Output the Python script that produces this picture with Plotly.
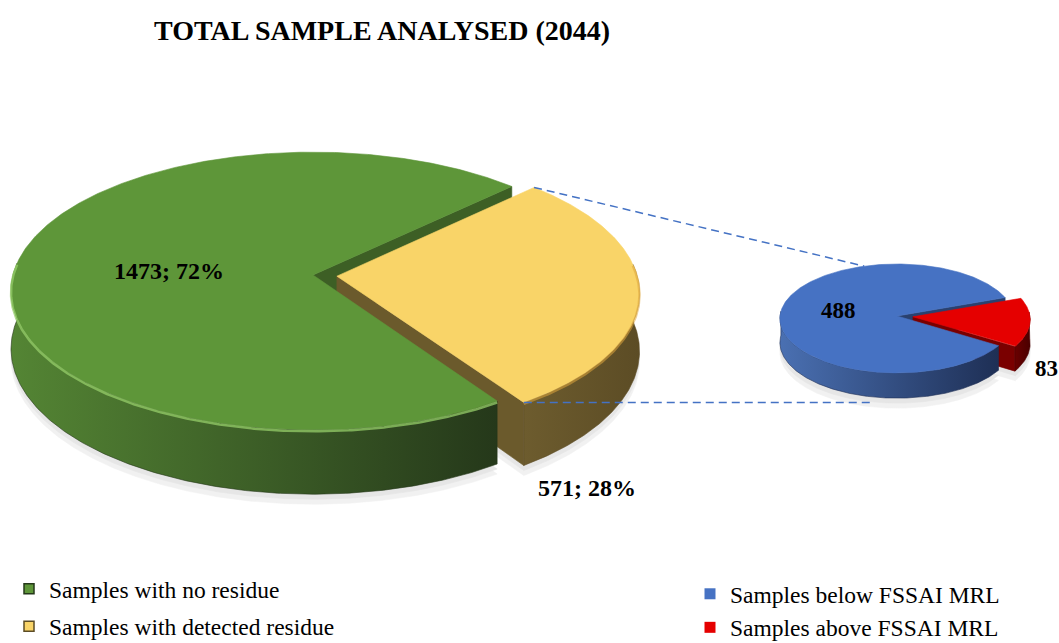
import numpy as np
import plotly.graph_objects as go

# ---------------- data ----------------
TITLE = "TOTAL SAMPLE ANALYSED (2044)"
main_labels = ["Samples with no residue", "Samples with detected residue"]
main_values = [1473, 571]
sub_labels = ["Samples below FSSAI MRL", "Samples above FSSAI MRL"]
sub_values = [488, 83]

# ---------------- style / layout ----------------
W, H = 1059, 643
SERIF = "Times New Roman, Liberation Serif, serif"

main_style = [
    dict(top="#5E9639", wall=["#548534", "#25381A"], face="#3D5F25", rim="rgba(150,205,105,0.75)"),
    dict(top="#F9D468", wall=["#6D5C2E", "#5C4C25"], face="#6B5A2C", rim="rgba(222,165,60,0.55)"),
]
sub_style = [
    dict(top="#4672C3", wall=["#4A70B2", "#1E2F55"], face="#2A416F", rim=None),
    dict(top="#E50000", wall=["#6A0000", "#4A0000"], face="#7A0000", rim=None),
]

BIG = dict(cx=313, cy=275, rx=300, ry=137, p=0.115, depth=57)
SMALL = dict(cx=897, cy=316, rx=117, ry=54.4, p=0.046, depth=24)
CENTER_ANGLE = -6.0
EXPLODE_BIG = 0.08
EXPLODE_SMALL = 0.137
WALL_WINDOWS = [(175.0, 365.0), (-185.0, 5.0)]


def project(g, u, v, drop):
    u = np.asarray(u, dtype=float)
    v = np.asarray(v, dtype=float)
    k = 1.0 / (1.0 + g["p"] * v)
    return g["cx"] + g["rx"] * u * k, g["cy"] - g["ry"] * v * k + drop * g["depth"] * k


def pie_angles(values):
    total = float(sum(values))
    span = 360.0 * values[1] / total
    a0 = CENTER_ANGLE - span / 2
    a1 = CENTER_ANGLE + span / 2
    # keep slice, split slice
    return [(a1, a0 + 360.0), (a0, a1)]


class Slice:
    def __init__(self, g, a0, a1, e):
        self.g, self.a0, self.a1 = g, a0, a1
        m = np.radians((a0 + a1) / 2)
        self.ex, self.ey = e * np.cos(m), e * np.sin(m)

    def rim(self, t_deg, drop, r=1.0):
        t = np.radians(np.asarray(t_deg, dtype=float))
        return project(self.g, r * np.cos(t) + self.ex, r * np.sin(t) + self.ey, drop)

    def apex(self, drop):
        return project(self.g, self.ex, self.ey, drop)

    def arc(self, lo, hi, drop):
        n = max(3, int(abs(hi - lo) * 2))
        return self.rim(np.linspace(lo, hi, n), drop)

    def top(self):
        ax, ay = self.apex(0)
        rx, ry = self.arc(self.a0, self.a1, 0)
        return np.r_[ax, rx, ax], np.r_[ay, ry, ay]

    def bottom(self, dy=0.0):
        ax, ay = self.apex(1)
        rx, ry = self.arc(self.a0, self.a1, 1)
        return np.r_[ax, rx, ax], np.r_[ay, ry, ay] + dy

    def face(self):
        ax0, ay0 = self.apex(0)
        ax1, ay1 = self.apex(1)
        px0, py0 = self.rim(self.a0, 0)
        px1, py1 = self.rim(self.a0, 1)
        return [ax0, px0, px1, ax1, ax0], [ay0, py0, py1, ay1, ay0]

    def walls(self):
        out = []
        for w0, w1 in WALL_WINDOWS:
            lo, hi = max(self.a0, w0), min(self.a1, w1)
            if hi > lo:
                tx, ty = self.arc(lo, hi, 0)
                bx, by = self.arc(lo, hi, 1)
                out.append((np.r_[tx, bx[::-1], tx[0]], np.r_[ty, by[::-1], ty[0]], lo, hi))
        return out


fig = go.Figure()


def poly(x, y, fill, gradient=None):
    kw = dict(x=list(x), y=list(y), mode="lines", fill="toself",
              line=dict(width=0.6, color=fill if gradient is None else gradient[1]),
              hoverinfo="skip", showlegend=False)
    if gradient is None:
        kw["fillcolor"] = fill
    else:
        kw["fillcolor"] = gradient[0]
        kw["fillgradient"] = dict(type="horizontal",
                                  colorscale=[[0, gradient[0]], [1, gradient[1]]],
                                  start=float(min(x)), stop=float(max(x)))
    fig.add_trace(go.Scatter(**kw))


def draw_pie(g, values, styles, explode):
    slices = []
    for i, (a0, a1) in enumerate(pie_angles(values)):
        slices.append(Slice(g, a0, a1, explode if i == 1 else 0.0))
    # soft shadow
    for dy, col in [(10, "#f1f1f1"), (5, "#e6e6e6")]:
        for s in slices:
            x, y = s.bottom(dy)
            poly(x, y, col)
    for s, st in zip(slices, styles):
        x, y = s.face()
        poly(x, y, st["face"])
    for s, st in zip(slices, styles):
        for x, y, lo, hi in s.walls():
            poly(x, y, None, gradient=st["wall"])
    for s, st in zip(slices, styles):
        x, y = s.top()
        poly(x, y, st["top"])
    for s, st in zip(slices, styles):
        if st["rim"]:
            for x, y, lo, hi in s.walls():
                rx, ry = s.arc(lo, hi, 0)
                fig.add_trace(go.Scatter(x=rx, y=ry + 1.5, mode="lines",
                                         line=dict(color=st["rim"], width=2.5),
                                         hoverinfo="skip", showlegend=False))
    return slices


big = draw_pie(BIG, main_values, main_style, EXPLODE_BIG)
small = draw_pie(SMALL, sub_values, sub_style, EXPLODE_SMALL)

# connector lines
ysl = big[1]
ux0, uy0 = ysl.rim(ysl.a1, 0)
ux1, uy1 = small[0].rim(107, 0)
lx0, ly0 = ysl.rim(ysl.a0, 0)
lx1, ly1 = small[0].rim(-101, 1)
for xs, ys in [([ux0, ux1], [uy0, uy1]), ([lx0, lx1], [ly0, ly0])]:
    fig.add_trace(go.Scatter(x=[float(v) for v in xs], y=[float(v) for v in ys], mode="lines",
                             line=dict(color="#4472C4", width=1.5, dash="8px,5px"),
                             hoverinfo="skip", showlegend=False))

# data labels
LABEL_FONT = dict(family=SERIF, size=24, color="black")
SUB_FONT = dict(family=SERIF, size=23, color="black")
total_main = sum(main_values)
annotations = []
gx, gy = big[0].rim((big[0].a0 + big[0].a1) / 2, 0, r=0.5)
annotations.append(dict(x=float(gx) + 4, y=float(gy) + 3,
                        text="<b>%d; %d%%</b>" % (main_values[0], round(100 * main_values[0] / total_main))))
annotations.append(dict(x=587, y=488,
                        text="<b>%d; %d%%</b>" % (main_values[1], round(100 * main_values[1] / total_main))))
bx, by = small[0].rim((small[0].a0 + small[0].a1) / 2, 0, r=0.5)
annotations.append(dict(x=float(bx), y=float(by) - 3, text="<b>%d</b>" % sub_values[0], font=SUB_FONT))
annotations.append(dict(x=1046, y=368, text="<b>%d</b>" % sub_values[1], font=SUB_FONT))
for a in annotations:
    a.update(xref="x", yref="y", showarrow=False, xanchor="center", yanchor="middle")
    a.setdefault("font", LABEL_FONT)
annotations.append(dict(x=382, y=30, xref="x", yref="y", showarrow=False,
                        text="<b>%s</b>" % TITLE, font=dict(family=SERIF, size=28, color="black"),
                        xanchor="center", yanchor="middle"))

# legend entries
for lab, st in zip(main_labels, main_style):
    fig.add_trace(go.Scatter(x=[None], y=[None], mode="markers", name=lab, legend="legend",
                             legendgroup=lab,
                             marker=dict(symbol="square", size=10, color=st["top"],
                                         line=dict(width=1.5, color=st["wall"][1]))))
for lab, st in zip(sub_labels, sub_style):
    fig.add_trace(go.Scatter(x=[None], y=[None], mode="markers", name=lab, legend="legend2",
                             legendgroup=lab,
                             marker=dict(symbol="square", size=11, color=st["top"])))

LEG_FONT = dict(family=SERIF, size=23.5, color="black")
fig.update_layout(
    width=W, height=H,
    margin=dict(l=0, r=0, t=0, b=0, autoexpand=False),
    paper_bgcolor="white", plot_bgcolor="white",
    xaxis=dict(range=[0, W], visible=False, fixedrange=True),
    yaxis=dict(range=[H, 0], visible=False, fixedrange=True),
    annotations=annotations,
    legend=dict(x=9 / W, y=1 - 567 / H, xanchor="left", yanchor="top", font=LEG_FONT,
                bgcolor="rgba(0,0,0,0)", tracegroupgap=4, itemclick=False),
    legend2=dict(x=690 / W, y=1 - 572 / H, xanchor="left", yanchor="top", font=LEG_FONT,
                 bgcolor="rgba(0,0,0,0)", tracegroupgap=0, itemclick=False),
)

fig.write_html("out.html", config={"displayModeBar": False},
               post_script="document.body.style.margin='0';")
